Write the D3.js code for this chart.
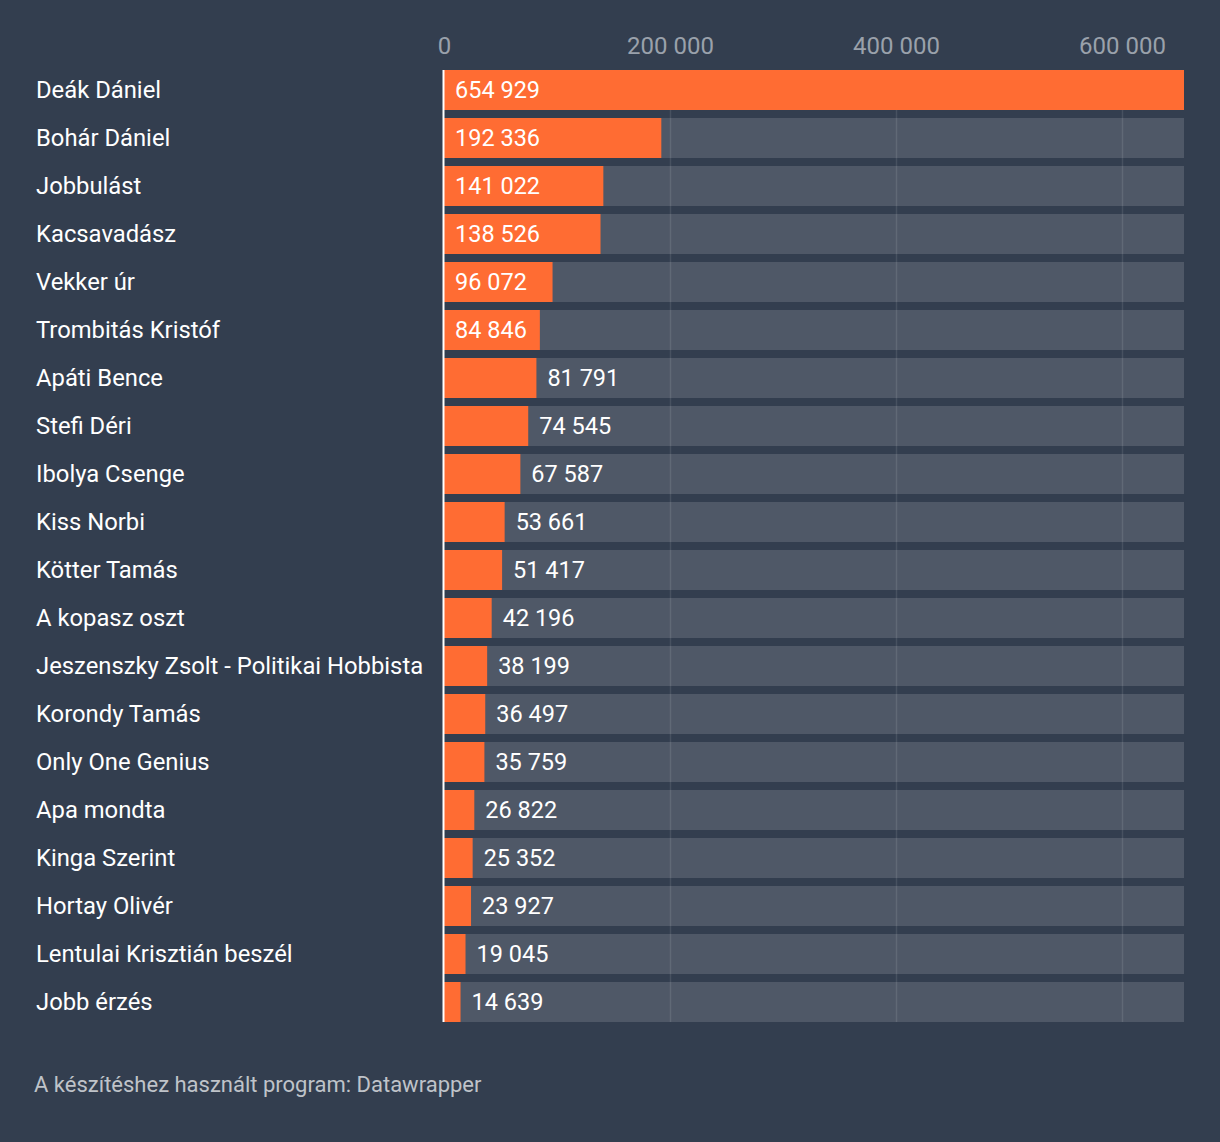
<!DOCTYPE html>
<html><head><meta charset="utf-8">
<script src="https://cdn.jsdelivr.net/npm/d3@7"></script>
<style>
html,body{margin:0;padding:0;background:#333e4f;}
svg{display:block;font-family:Roboto,"Noto Sans",sans-serif;}
</style></head><body>
<svg id="c" width="1220" height="1142"></svg>
<script>
const categories = ["Deák Dániel","Bohár Dániel","Jobbulást","Kacsavadász","Vekker úr","Trombitás Kristóf","Apáti Bence","Stefi Déri","Ibolya Csenge","Kiss Norbi","Kötter Tamás","A kopasz oszt","Jeszenszky Zsolt - Politikai Hobbista","Korondy Tamás","Only One Genius","Apa mondta","Kinga Szerint","Hortay Olivér","Lentulai Krisztián beszél","Jobb érzés"];
const values = [654929,192336,141022,138526,96072,84846,81791,74545,67587,53661,51417,42196,38199,36497,35759,26822,25352,23927,19045,14639];
const tickValues = [0,200000,400000,600000];
const insideCount = 6;
const footer = "A készítéshez használt program: Datawrapper";

const svg = d3.select("#c");
svg.append("rect").attr("width",1220).attr("height",1142).attr("fill","#333e4f");

const x = d3.scaleLinear().domain([0, d3.max(values)]).range([444, 1184]);
const y = d3.scaleBand().domain(categories).range([70, 70 + 48*categories.length - 8]).paddingInner(8/48).paddingOuter(0);
const bh = y.bandwidth();
const fmt = v => d3.format(",")(v).replace(/,/g, " ");

// tracks
svg.append("g").selectAll("rect").data(categories).join("rect")
  .attr("x", x(0)).attr("y", d => y(d)).attr("width", x.range()[1]-x(0)).attr("height", bh)
  .attr("fill", "#4f5867");

// gridlines
const yTop = y(categories[0]), yBot = y(categories[categories.length-1]) + bh;
svg.append("g").selectAll("line").data(tickValues.slice(1)).join("line")
  .attr("x1", d => Math.round(x(d))+0.5).attr("x2", d => Math.round(x(d))+0.5)
  .attr("y1", yTop).attr("y2", yBot)
  .attr("stroke", "#ffffff").attr("stroke-opacity", 0.1).attr("stroke-width", 1.5);

// axis tick labels
const axis = d3.axisTop(x).tickValues(tickValues).tickFormat(fmt).tickSize(0).tickPadding(0);
const ag = svg.append("g").attr("transform", "translate(0,54)").call(axis);
ag.select(".domain").remove();
ag.selectAll("text").attr("fill", "#9aa1ab").attr("font-size", 24).attr("font-family","Roboto, sans-serif").attr("dy", 0);

// bars
svg.append("g").selectAll("rect").data(values).join("rect")
  .attr("x", x(0)).attr("y", (d,i) => y(categories[i]))
  .attr("width", d => x(d) - x(0)).attr("height", bh)
  .attr("fill", "#ff6c33");

// baseline
svg.append("line").attr("x1", x(0)-0.5).attr("x2", x(0)-0.5).attr("y1", yTop).attr("y2", yBot)
  .attr("stroke", "#ffffff").attr("stroke-width", 2);

// category labels
svg.append("g").selectAll("text").data(categories).join("text")
  .attr("x", 36).attr("y", d => y(d) + bh/2).attr("dy", "0.34em")
  .attr("fill", "#ffffff").attr("font-size", 23.8).text(d => d);

// value labels
svg.append("g").selectAll("text").data(values).join("text")
  .attr("x", (d,i) => i < insideCount ? x(0) + 11 : x(d) + 11)
  .attr("y", (d,i) => y(categories[i]) + bh/2).attr("dy", "0.34em")
  .attr("fill", "#ffffff").attr("font-size", 23.5).text(d => fmt(d));

// footer
svg.append("text").attr("x", 34).attr("y", 1092).attr("fill", "#bfc3c9").attr("font-size", 22).text(footer);
</script>
</body></html>
